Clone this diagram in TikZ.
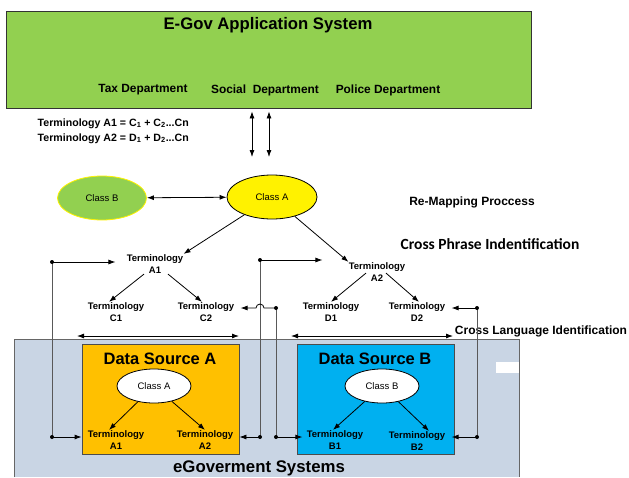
\documentclass[tikz,border=0pt]{standalone}
\usepackage{fontspec}
\setmainfont{Liberation Sans}
\newfontfamily\calibfont{Carlito}
\usetikzlibrary{shapes.geometric, arrows.meta, positioning}

\definecolor{appgreen}{RGB}{146,208,80}
\definecolor{srcorange}{RGB}{255,192,0}
\definecolor{srcblue}{RGB}{0,176,240}
\definecolor{sysgrey}{RGB}{201,213,228}

\begin{document}
\begin{tikzpicture}[
    x=1pt, y=-1pt,
    >={Latex[length=7pt,width=5pt]},
    line width=0.8pt,
    every node/.style={font=\bfseries\fontsize{9.5}{12.5}\selectfont},
    term/.style={align=center, inner sep=0pt},
    cls/.style={ellipse, draw, font=\mdseries\fontsize{9.5}{11}\selectfont},
    src/.style={rectangle, draw=black!70, minimum width=157pt, minimum height=110pt},
    link/.style={draw=black!65},
    dot/.style={fill=black}
]
\useasboundingbox (0,0) rectangle (629,477);

% application system
\node (egov) [rectangle, draw=black!80, fill=appgreen, minimum width=525pt, minimum height=97pt] at (268.5,59.5) {};
\node (title) [font=\bfseries\fontsize{16.7}{20}\selectfont] at (268,25) {E-Gov Application System};
\node (tax) [font=\bfseries\fontsize{11.9}{14}\selectfont] at (143,90) {Tax Department};
\node (social) [font=\bfseries\fontsize{11.9}{14}\selectfont] at (265,90) {Social\ \ Department};
\node (police) [font=\bfseries\fontsize{11.9}{14}\selectfont] at (388,90) {Police Department};

\node (formula) [anchor=west, align=left, font=\bfseries\fontsize{10.6}{15}\selectfont] at (34,131)
    {Terminology A1 = C\textsubscript{1} + C\textsubscript{2}...Cn\\Terminology A2 = D\textsubscript{1} + D\textsubscript{2}...Cn};

\coordinate (upL) at (252,157);
\coordinate (upR) at (269,157);
\draw[<->] (upL |- egov.south) ++(0,3) -- (upL);
\draw[<->] (upR |- egov.south) ++(0,3) -- (upR);

% re-mapping
\node (clsB) [cls, draw=yellow, fill=appgreen, minimum width=89pt, minimum height=44pt] at (102,198) {Class B};
\node (clsA) [cls, fill=yellow, minimum width=90pt, minimum height=44pt] at (272,197) {Class A};
\draw[<->] (clsB) -- (clsA);

\node (remap) [font=\bfseries\fontsize{12}{14}\selectfont] at (472,202) {Re-Mapping Proccess};
\node (phrase) [font=\calibfont\bfseries\fontsize{15.5}{18}\selectfont] at (490,244) {Cross Phrase Indentification};

\node (termA1) [term] at (155,264) {Terminology\\A1};
\node (termA2) [term] at (377,272) {Terminology\\A2};
\node (termC1) [term] at (116,312) {Terminology\\C1};
\node (termC2) [term] at (206,312) {Terminology\\C2};
\node (termD1) [term] at (331,312) {Terminology\\D1};
\node (termD2) [term] at (417,312) {Terminology\\D2};

\draw[->] (clsA) -- (termA1.north east);
\draw[->] (clsA) -- (termA2.north west);
\draw[->] ([xshift=-11pt]termA1.south) -- ([xshift=-7pt]termC1.north);
\draw[->] ([xshift=13pt]termA1.south) -- ([xshift=-4pt]termC2.north);
\draw[->] ([xshift=-11pt,yshift=9pt]termA2.south) -- (termD1.north);
\draw[->] ([xshift=9pt,yshift=9pt]termA2.south) -- ([xshift=2pt]termD2.north);

% egovernment systems
\fill[sysgrey] (14,339) rectangle (519,477);
\draw[black!60] (14,477) |- (519,339) -- (519,477);
\fill[white] (496,362) rectangle (518.5,373);
\node (sys) [font=\bfseries\fontsize{16.8}{20}\selectfont] at (259,468) {eGoverment Systems};

\node (srcA) [src, fill=srcorange] at (160.5,399) {};
\node (srcB) [src, fill=srcblue] at (375.5,399) {};
\node (srcAtitle) [font=\bfseries\fontsize{16.5}{19}\selectfont] at (160,359) {Data Source A};
\node (srcBtitle) [font=\bfseries\fontsize{16.5}{19}\selectfont] at (375,359) {Data Source B};

\node (dsClsA) [cls, fill=white, minimum width=74pt, minimum height=34pt] at (154,386) {Class A};
\node (dsClsB) [cls, fill=white, minimum width=74pt, minimum height=34pt] at (382,386) {Class B};

\node (tA1) [term] at (116,440) {Terminology\\A1};
\node (tA2) [term] at (205,440) {Terminology\\A2};
\node (tB1) [term] at (335,440) {Terminology\\B1};
\node (tB2) [term] at (417,441) {Terminology\\B2};

\draw[->] (dsClsA) -- ([xshift=-7pt]tA1.north);
\draw[->] (dsClsA) -- (tA2.north);
\draw[->] (dsClsB) -- ([xshift=-2pt]tB1.north);
\draw[->] (dsClsB) -- ([xshift=12pt]tB2.north);

% cross language
\coordinate (langA1) at (77,336);
\coordinate (langA2) at (239,336);
\coordinate (langB1) at (291,336);
\coordinate (langB2) at (453,336);
\draw[<->] (langA1) -- (langA2);
\draw[<->] (langB1) -- (langB2);
\node (lang) [font=\bfseries\fontsize{12}{14}\selectfont] at (541,331) {Cross Language Identification};

% links between the two levels
\coordinate (l1) at (52,262);
\coordinate (l2) at (52,437);
\coordinate (m1) at (260,260);
\coordinate (m2) at (260,437);
\coordinate (n1) at (276,308);
\coordinate (n2) at (276,437);
\coordinate (r1) at (477,308);
\coordinate (r2) at (477,437);
\coordinate (hop) at (260,308);

\draw[link] (l1) -- (l2);
\draw[link] (m1) -- (m2);
\draw[link] (n1) -- (n2);
\draw[link] (r1) -- (r2);
\draw[->, shorten >=11pt] (l1) -- (l1 -| termA1.west);
\draw[->, shorten >=26pt] (m1) -- (m1 -| termA2.west);
\draw[->, shorten >=6pt] (n1) -- ([xshift=4pt]hop) arc[start angle=0, end angle=-180, radius=4] -- (n1 -| termC2.east);
\draw[->, shorten >=6pt] (r1) -- (r1 -| termD2.east);
\draw[->] (l2) -- (l2 -| srcA.west);
\draw[->] (m2) -- (m2 -| srcA.east);
\draw[->, shorten >=4pt] (n2) -- (n2 -| tB1.west);
\draw[->, shorten >=6pt] (r2) -- (r2 -| tB2.east);
\foreach \p in {l1,l2,m1,m2,n1,n2,r1,r2}
    \fill[dot] (\p) circle (2);
\end{tikzpicture}
\end{document}
